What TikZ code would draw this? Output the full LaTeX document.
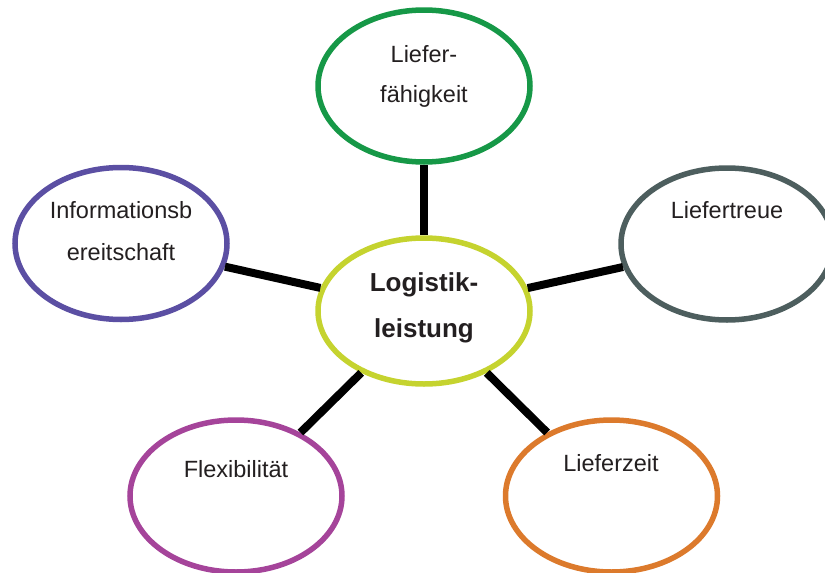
\documentclass[tikz,border=0pt]{standalone}
\usepackage{fontspec}
\setmainfont{Liberation Sans}
\usetikzlibrary{shapes.geometric}
\definecolor{cgreen}{HTML}{169847}
\definecolor{cyellow}{HTML}{C5D32F}
\definecolor{cslate}{HTML}{4D5E5E}
\definecolor{cpurple}{HTML}{5B4FA3}
\definecolor{cmagenta}{HTML}{A5449A}
\definecolor{corange}{HTML}{DC7A2C}
\definecolor{ctext}{HTML}{231F20}
\tikzset{
  bubble/.style={ellipse, draw=#1, line width=5.5pt, fill=white, inner sep=0pt,
    minimum width=212pt, minimum height=152pt},
  centerbubble/.style={bubble=cyellow, minimum height=146pt},
  lbl/.style={anchor=base, inner sep=0pt, text=ctext, font=\fontsize{23.5}{23.5}\selectfont},
  blbl/.style={anchor=base, inner sep=0pt, text=ctext, font=\fontsize{26}{26}\selectfont\bfseries},
  spoke/.style={draw=black, line width=8pt}
}
\begin{document}
\begin{tikzpicture}[x=1pt, y=-1pt]
\useasboundingbox (0,0) rectangle (825,573);
\node[centerbubble] (center) at (424,311) {};
\node[bubble=cgreen] (top) at (424,86) {};
\node[bubble=cslate] (right) at (727,244) {};
\node[bubble=cpurple] (left) at (121,243.5) {};
\node[bubble=cmagenta] (bl) at (236,496) {};
\node[bubble=corange] (br) at (611.5,496) {};
\draw[spoke] (top) -- (center);
\draw[spoke] (left) -- (center);
\draw[spoke] (right) -- (center);
\draw[spoke] (bl) -- (center);
\draw[spoke] (br) -- (center);
\node[lbl] (t1) at (424,62) {Liefer-};
\node[lbl] (t2) at (424,102) {fähigkeit};
\node[lbl] (r1) at (727,218) {Liefertreue};
\node[lbl] (l1) at (121,218) {Informationsb};
\node[lbl] (l2) at (121,260) {ereitschaft};
\node[lbl] (b1) at (236,477) {Flexibilität};
\node[lbl] (b2) at (611,471) {Lieferzeit};
\node[blbl] (c1) at (424,291) {Logistik-};
\node[blbl] (c2) at (424,337) {leistung};
\end{tikzpicture}
\end{document}
